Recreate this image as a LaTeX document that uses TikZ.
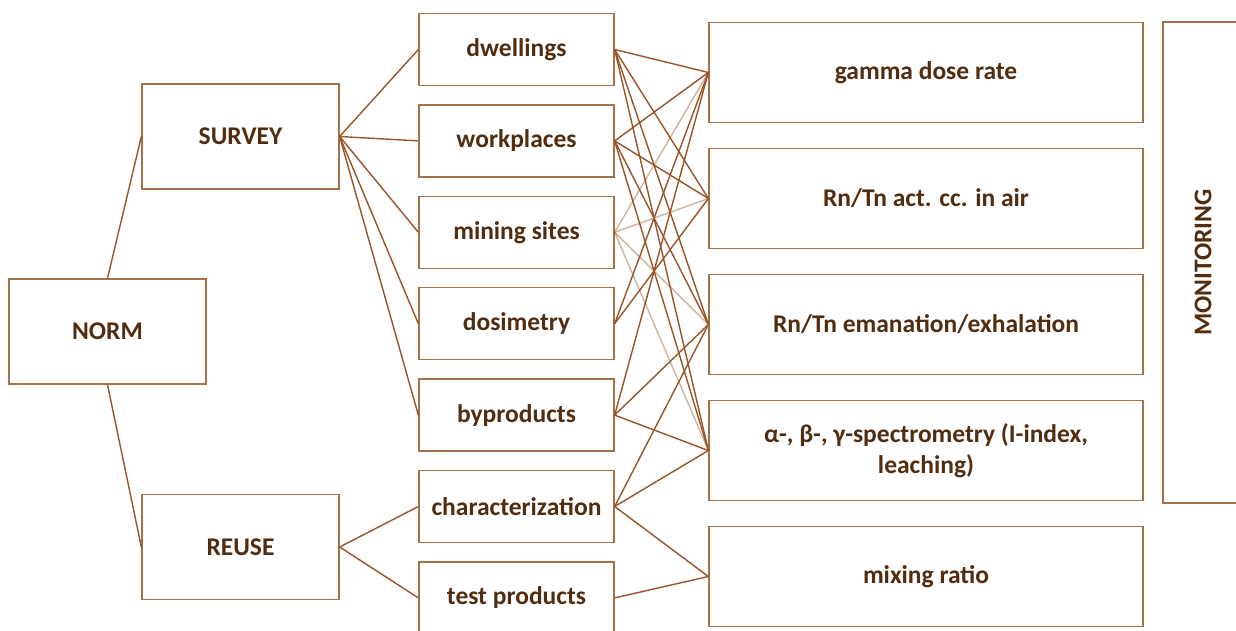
\documentclass[tikz,border=0pt]{standalone}
\usepackage{fontspec}
\setmainfont{Carlito}
\usetikzlibrary{positioning}
\definecolor{boxline}{HTML}{A47248}
\definecolor{wirec}{HTML}{985426}
\definecolor{txt}{HTML}{522C0E}
\tikzset{
box/.style={rectangle, minimum width=197pt, minimum height=105pt, inner sep=0pt, text centered, align=center, draw=boxline, line width=1.3pt, text=txt, font=\bfseries\fontsize{25.5}{31}\selectfont},
item/.style={box, minimum width=195pt, minimum height=72pt},
method/.style={box, minimum width=434pt, minimum height=100pt},
wire/.style={draw=wirec, line width=1.4pt},
faintwire/.style={wire, draw opacity=0.45}}

\begin{document}
\begin{tikzpicture}[x=1pt, y=1pt]
\useasboundingbox (0,0) rectangle (1236,630);

\node (norm) [box] at (107.5,298.5) {NORM};
\node (survey) [box] at (240.5,493.5) {SURVEY};
\node (reuse) [box] at (240.5,83) {REUSE};

\node (dwell) [item] at (516.5,580.5) {dwellings};
\node (work) [item, below of=dwell, node distance=91.4pt] {workplaces};
\node (mine) [item, below of=work, node distance=91.4pt] {mining sites};
\node (dosi) [item, below of=mine, node distance=91.4pt] {dosimetry};
\node (byprod) [item, below of=dosi, node distance=91.4pt] {byproducts};
\node (charac) [item, below of=byprod, node distance=91.4pt] {characterization};
\node (test) [item, below of=charac, node distance=91.4pt] {test products};

\node (gamma) [method] at (926,557.5) {gamma dose rate};
\node (actcc) [method, below of=gamma, node distance=126pt] {Rn/Tn act. cc. in air};
\node (eman) [method, below of=actcc, node distance=126pt] {Rn/Tn emanation/exhalation};
\node (spectro) [method, below of=eman, node distance=126pt] {α-, β-, γ-spectrometry (I-index,\\leaching)};
\node (mix) [method, below of=spectro, node distance=126pt] {mixing ratio};

\node (monit) [box, minimum width=80pt, minimum height=481pt] at (1203,367.5) {};
\node [text=txt, font=\bfseries\fontsize{25.5}{31}\selectfont, rotate=90] at (monit.center) {MONITORING};

% tree
\draw [wire] (norm.north) -- (survey.west);
\draw [wire] (norm.south) -- (reuse.west);
\draw [wire] (survey.east) -- (dwell.west);
\draw [wire] (survey.east) -- (work.west);
\draw [wire] (survey.east) -- (mine.west);
\draw [wire] (survey.east) -- (dosi.west);
\draw [wire] (survey.east) -- (byprod.west);
\draw [wire] (reuse.east) -- (charac.west);
\draw [wire] (reuse.east) -- (test.west);

% methods
\draw [wire] (dwell.east) -- (gamma.west);
\draw [wire] (dwell.east) -- (actcc.west);
\draw [wire] (dwell.east) -- (eman.west);
\draw [wire] (dwell.east) -- (spectro.west);
\draw [wire] (work.east) -- (gamma.west);
\draw [wire] (work.east) -- (actcc.west);
\draw [wire] (work.east) -- (eman.west);
\draw [wire] (work.east) -- (spectro.west);
\draw [faintwire] (mine.east) -- (gamma.west);
\draw [faintwire] (mine.east) -- (actcc.west);
\draw [faintwire] (mine.east) -- (eman.west);
\draw [faintwire] (mine.east) -- (spectro.west);
\draw [wire] (dosi.east) -- (gamma.west);
\draw [wire] (dosi.east) -- (actcc.west);
\draw [wire] (byprod.east) -- (gamma.west);
\draw [wire] (byprod.east) -- (eman.west);
\draw [wire] (byprod.east) -- (spectro.west);
\draw [wire] (charac.east) -- (eman.west);
\draw [wire] (charac.east) -- (spectro.west);
\draw [wire] (charac.east) -- (mix.west);
\draw [wire] (test.east) -- (mix.west);
\end{tikzpicture}
\end{document}
